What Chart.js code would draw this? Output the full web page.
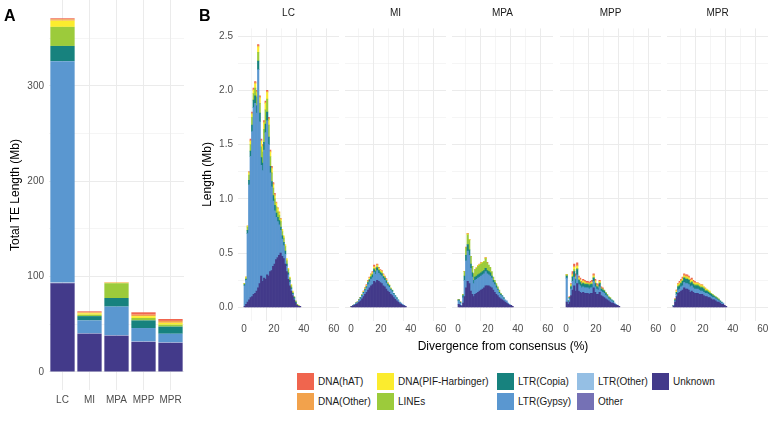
<!DOCTYPE html>
<html>
<head>
<meta charset="utf-8">
<script src="https://cdn.jsdelivr.net/npm/chart.js@4.4.1/dist/chart.umd.min.js"></script>
<style>
  body { margin: 0; background: #fff; font-family: 'Liberation Sans', Arial, sans-serif; }
  #wrap { position: relative; width: 771px; height: 422px; overflow: hidden; }
  canvas { position: absolute; top: 0; }
  .tag { position: absolute; font-weight: bold; font-size: 16px; line-height: 16px; }
  .xtitle { position: absolute; left: 237px; width: 532px; top: 339px; text-align: center; font-size: 12px; line-height: 14px; }
  .key { position: absolute; width: 17px; height: 17px; }
  .keytext { position: absolute; font-size: 10px; line-height: 17px; color: #1a1a1a; }
</style>
</head>
<body>
<div id="wrap">
  <canvas id="barA" style="left:0px" width="187" height="422"></canvas>
  <canvas id="f0" style="left:196px" width="143" height="340"></canvas>
  <canvas id="f1" style="left:345px" width="101" height="340"></canvas>
  <canvas id="f2" style="left:452px" width="101" height="340"></canvas>
  <canvas id="f3" style="left:560px" width="101" height="340"></canvas>
  <canvas id="f4" style="left:667px" width="101" height="340"></canvas>
  <div class="tag" style="left:4px;top:8px">A</div>
  <div class="tag" style="left:199px;top:8px">B</div>
  <div class="xtitle">Divergence from consensus (%)</div>
  <div id="legend"></div>
</div>
<script>
// legend order (ggplot factor order), colours
const seriesNames = ['DNA(hAT)', 'DNA(Other)', 'DNA(PIF-Harbinger)', 'LINEs', 'LTR(Copia)', 'LTR(Gypsy)', 'LTR(Other)', 'Other', 'Unknown'];
const seriesColors = ['#F0654E', '#F2A24C', '#FBEC2E', '#9CCB3B', '#17827E', '#5A97D0', '#95BFE4', '#7571B5', '#433A8A'];

// panel A: total TE length (Mb)
const species = ['LC', 'MI', 'MPA', 'MPP', 'MPR'];
const barUnknown  = [93, 40, 38, 31.5, 30.5];
const barOther    = [0.5, 0.3, 0.3, 0.3, 0.3];
const barLtrOther = [0.5, 0.3, 0.3, 0.3, 0.3];
const barGypsy    = [232, 13.5, 30, 14, 9];
const barCopia    = [16, 4.5, 9, 8, 7.5];
const barLines    = [20, 1.5, 15.5, 2.5, 2];
const barPif      = [6.5, 1.5, 0.5, 2, 2];
const barDnaOther = [1.5, 1, 0.3, 1.5, 2];
const barHat      = [1, 1, 0.3, 2.5, 2];
const barTicks = [0, 50, 100, 150, 200, 250, 300, 350];

// panel B: length (Mb) per divergence bin
const divergenceBins = [0.5,1.5,2.5,3.5,4.5,5.5,6.5,7.5,8.5,9.5,10.5,11.5,12.5,13.5,14.5,15.5,16.5,17.5,18.5,19.5,
  20.5,21.5,22.5,23.5,24.5,25.5,26.5,27.5,28.5,29.5,30.5,31.5,32.5,33.5,34.5,35.5,36.5,37.5,38.5,39.5];
const divTicks = [0, 10, 20, 30, 40, 50, 60];
const lenTicks = [0, 0.25, 0.5, 0.75, 1, 1.25, 1.5, 1.75, 2, 2.25, 2.5];

const lcUnknown  = [0.01,0.03,0.05,0.07,0.09,0.10,0.12,0.13,0.15,0.18,0.22,0.29,0.24,0.27,0.26,0.30,0.29,0.33,0.34,0.38,0.40,0.44,0.46,0.48,0.50,0.47,0.45,0.40,0.33,0.26,0.20,0.15,0.11,0.07,0.04,0.02,0.01,0.01];
const lcGypsy    = [0.19,0.22,0.63,1.06,1.30,1.52,1.72,1.75,1.64,2.01,1.49,1.02,1.02,1.18,1.35,1.42,1.21,0.91,0.77,0.60,0.49,0.39,0.33,0.28,0.21,0.16,0.12,0.09,0.05,0.04,0.03,0.02,0.01,0.01];
const lcCopia    = [0.01,0.01,0.03,0.04,0.05,0.06,0.07,0.07,0.07,0.08,0.08,0.07,0.07,0.07,0.08,0.08,0.07,0.06,0.05,0.05,0.05,0.04,0.04,0.04,0.03,0.03,0.03,0.03,0.02,0.02,0.02,0.01,0.01,0.01,0.01];
const lcLines    = [0.01,0.01,0.03,0.05,0.06,0.07,0.06,0.07,0.08,0.08,0.09,0.10,0.10,0.12,0.13,0.12,0.11,0.09,0.08,0.07,0.06,0.06,0.05,0.05,0.05,0.04,0.04,0.04,0.03,0.03,0.02,0.02,0.01,0.01,0.01,0.01,0.01];
const lcPif      = [0,0.01,0.01,0.02,0.03,0.03,0.03,0.04,0.04,0.05,0.05,0.05,0.05,0.06,0.06,0.06,0.05,0.04,0.04,0.03,0.03,0.03,0.03,0.02,0.02,0.02,0.02,0.02,0.02,0.01,0.01,0.01,0.01];
const lcDnaOther = [0,0,0,0.01,0.01,0.01,0.01,0.01,0.01,0.01,0.01,0.01,0.01,0.01,0.01,0.01,0.01,0.01,0.01,0.01,0.01,0.01,0.01,0.01,0.01];
const lcHat      = [0,0,0,0,0.01,0.01,0.01,0.01,0.01,0.01,0.01,0.01,0.01,0.01,0.01,0.01,0.01,0.01,0.01,0.01,0.01];

const miUnknown  = [0.01,0.015,0.02,0.03,0.035,0.05,0.06,0.08,0.10,0.12,0.14,0.16,0.18,0.20,0.21,0.24,0.23,0.25,0.24,0.23,0.22,0.20,0.19,0.17,0.15,0.14,0.12,0.11,0.09,0.075,0.06,0.05,0.035,0.03,0.02,0.015,0.01];
const miGypsy    = [0,0.005,0.01,0.01,0.01,0.015,0.02,0.025,0.03,0.035,0.04,0.05,0.055,0.06,0.065,0.085,0.075,0.09,0.075,0.07,0.07,0.065,0.06,0.055,0.05,0.045,0.04,0.035,0.03,0.025,0.02,0.015,0.01,0.01,0.01,0.005];
const miCopia    = [0,0,0,0,0.005,0.005,0.01,0.01,0.01,0.01,0.01,0.02,0.02,0.02,0.025,0.025,0.025,0.025,0.025,0.02,0.02,0.02,0.02,0.02,0.015,0.015,0.01,0.01,0.01,0.01,0.01,0.005,0.005];
const miLines    = [0,0,0,0,0,0,0,0,0,0.005,0.005,0.005,0.005,0.01,0.01,0.01,0.01,0.01,0.01,0.01,0.01,0.005,0.005,0.005,0.005,0.005,0.005,0.005];
const miPif      = [0,0,0,0,0,0,0,0.005,0.005,0.005,0.005,0.005,0.01,0.01,0.01,0.01,0.01,0.01,0.01,0.01,0.01,0.01,0.005,0.005,0.005,0.005,0.005];
const miDnaOther = [0,0,0,0,0,0,0,0,0.005,0.005,0.005,0.005,0.005,0.005,0.005,0.01,0.005,0.01,0.005,0.005,0.005,0.005,0.005,0.005,0.005];
const miHat      = [0,0,0,0,0,0,0,0,0,0,0.005,0.005,0.005,0.005,0.005,0.01,0.01,0.005,0.005,0.005,0.005,0.005,0.005,0.005];

const mpaUnknown  = [0.03,0.02,0.01,0.04,0.10,0.18,0.24,0.22,0.15,0.12,0.10,0.12,0.13,0.14,0.15,0.16,0.17,0.18,0.20,0.20,0.20,0.19,0.18,0.16,0.14,0.12,0.11,0.09,0.08,0.07,0.06,0.05,0.04,0.03,0.02,0.02,0.01];
const mpaGypsy    = [0.03,0.02,0.01,0.05,0.15,0.25,0.28,0.26,0.21,0.16,0.12,0.13,0.13,0.13,0.13,0.13,0.13,0.13,0.13,0.11,0.10,0.10,0.09,0.07,0.07,0.06,0.05,0.04,0.03,0.03,0.02,0.02,0.02,0.01,0.01];
const mpaCopia    = [0.01,0.01,0,0.02,0.04,0.05,0.06,0.05,0.04,0.04,0.03,0.03,0.03,0.03,0.03,0.03,0.03,0.03,0.03,0.03,0.03,0.03,0.02,0.02,0.02,0.02,0.01,0.01,0.01,0.01,0.01];
const mpaLines    = [0,0,0,0.01,0.04,0.07,0.09,0.09,0.07,0.06,0.06,0.07,0.07,0.08,0.08,0.08,0.08,0.08,0.09,0.07,0.06,0.05,0.04,0.03,0.02,0.02,0.02,0.02,0.01];
const mpaPif      = [0,0,0,0,0,0,0.005,0.005,0,0,0,0,0.005,0.005,0.005,0.005,0.005,0.005,0.005];
const mpaDnaOther = [0,0,0,0,0,0,0.005,0,0,0,0,0,0,0,0,0.005,0,0,0.005];
const mpaHat      = [0,0,0,0,0,0.005,0,0,0,0,0,0,0,0,0.005,0,0,0,0,0.005];

const mppUnknown  = [0.05,0.03,0.05,0.11,0.16,0.20,0.15,0.22,0.15,0.14,0.13,0.14,0.13,0.13,0.13,0.12,0.13,0.13,0.18,0.14,0.12,0.12,0.14,0.11,0.10,0.09,0.08,0.07,0.06,0.05,0.04,0.04,0.03,0.02,0.02,0.01];
const mppGypsy    = [0.22,0.02,0.03,0.06,0.08,0.08,0.07,0.08,0.06,0.06,0.05,0.05,0.05,0.05,0.05,0.05,0.05,0.05,0.06,0.05,0.05,0.04,0.05,0.04,0.04,0.04,0.03,0.03,0.02,0.02,0.02,0.01,0.01,0.01];
const mppCopia    = [0.02,0.01,0.01,0.02,0.04,0.05,0.04,0.05,0.04,0.03,0.03,0.03,0.03,0.03,0.03,0.03,0.03,0.03,0.03,0.03,0.02,0.02,0.03,0.02,0.02,0.02,0.02,0.01,0.01,0.01,0.01,0.01];
const mppLines    = [0.01,0,0,0.01,0.01,0.02,0.01,0.01,0.01,0.01,0.01,0.01,0.01,0.01,0.01,0.01,0.01,0.01,0.01,0.01,0.01,0.01,0.01,0.01,0.01,0.01,0.01,0.01,0.01,0.01];
const mppPif      = [0,0,0,0.01,0.01,0.02,0.01,0.02,0.01,0.01,0,0.01,0.01,0,0,0,0,0.01,0.01,0.01,0,0,0.01];
const mppDnaOther = [0,0,0,0,0.01,0.01,0.01,0.01,0.01,0.01,0.01,0.01,0.01,0.01,0.01,0.01,0.01,0.01,0.01,0.01,0.01,0.01];
const mppHat      = [0,0,0.01,0.01,0.02,0.02,0.02,0.02,0.01,0.01,0.01,0.01,0.01,0.01,0.01,0.01,0.01,0.01,0.01,0.01,0.01,0.01,0.01,0.01,0.01];

const mprUnknown  = [0.01,0.05,0.10,0.13,0.14,0.15,0.16,0.18,0.17,0.17,0.16,0.14,0.15,0.14,0.13,0.13,0.13,0.12,0.12,0.12,0.11,0.10,0.10,0.09,0.09,0.08,0.07,0.07,0.06,0.05,0.05,0.04,0.03,0.03,0.02,0.01];
const mprGypsy    = [0.01,0.01,0.02,0.03,0.03,0.04,0.04,0.05,0.05,0.05,0.05,0.05,0.05,0.04,0.04,0.04,0.04,0.04,0.03,0.03,0.03,0.03,0.03,0.03,0.02,0.02,0.02,0.02,0.02,0.02,0.01,0.01,0.01,0.01];
const mprCopia    = [0,0.01,0.02,0.03,0.03,0.03,0.04,0.04,0.04,0.04,0.04,0.03,0.03,0.03,0.03,0.03,0.03,0.03,0.03,0.03,0.03,0.02,0.02,0.02,0.02,0.02,0.02,0.01,0.01,0.01,0.01,0.01,0.01];
const mprLines    = [0,0,0,0.01,0.01,0.01,0.01,0.01,0.01,0.01,0.01,0.01,0.01,0.01,0.01,0.01,0.01,0.01,0.01,0.01,0.01,0.01,0.01,0.01,0.01,0.01,0.01,0.01,0.01,0.01,0.01];
const mprPif      = [0,0,0.01,0.01,0.01,0.01,0.01,0.01,0.01,0.01,0.01,0.01,0.01,0.01,0.01,0.01,0.01,0.01,0.01,0.01,0.01,0.01,0.01,0.01,0.01];
const mprDnaOther = [0,0.01,0.01,0.01,0.01,0.01,0.01,0.01,0.01,0.01,0.01,0.01,0.01,0.01,0.01,0.01,0.01,0.01,0.01,0.01,0,0.01];
const mprHat      = [0,0,0,0,0.01,0.01,0.01,0.01,0.01,0.01,0.01,0.01,0.01,0.01,0.01];

Chart.defaults.font.family = "'Liberation Sans', Arial, sans-serif";
Chart.defaults.animation = false;

const GRID = '#ebebeb';
const TICK = '#4d4d4d';
const colorOf = name => seriesColors[seriesNames.indexOf(name)];

// keep the plot area exactly where afterFit puts it (no extra room for edge labels)
function noEdgePadding(s) {
  s.paddingTop = 0; s.paddingBottom = 0; s.paddingLeft = 0; s.paddingRight = 0;
}

// small plugin for the facet strip labels
function strip(text) {
  return {
    id: 'strip',
    afterDraw(chart) {
      const { ctx, chartArea } = chart;
      ctx.save();
      ctx.fillStyle = '#1a1a1a';
      ctx.font = "10px 'Liberation Sans', Arial, sans-serif";
      ctx.textAlign = 'center';
      ctx.textBaseline = 'middle';
      ctx.fillText(text, (chartArea.left + chartArea.right) / 2, 13);
      ctx.restore();
    }
  };
}

// ---- panel A ----
const barLayers = [
  ['Unknown', barUnknown], ['Other', barOther], ['LTR(Other)', barLtrOther],
  ['LTR(Gypsy)', barGypsy], ['LTR(Copia)', barCopia], ['LINEs', barLines],
  ['DNA(PIF-Harbinger)', barPif], ['DNA(Other)', barDnaOther], ['DNA(hAT)', barHat]
];

new Chart(document.getElementById('barA'), {
  type: 'bar',
  data: {
    labels: species,
    datasets: barLayers.map(([name, vals]) => ({
      label: name, data: vals, backgroundColor: colorOf(name),
      borderWidth: 0, barPercentage: 0.9, categoryPercentage: 1
    }))
  },
  options: {
    responsive: false,
    layout: { padding: { top: 0, right: 3, bottom: 0, left: 0 } },
    plugins: { legend: { display: false }, tooltip: { enabled: false } },
    scales: {
      x: {
        stacked: true,
        afterFit: s => { s.height = 32; noEdgePadding(s); },
        grid: { offset: false, color: GRID, lineWidth: 1, drawTicks: false },
        border: { display: false },
        ticks: { color: TICK, font: { size: 10 }, padding: 4, autoSkip: false, maxRotation: 0, minRotation: 0 }
      },
      y: {
        stacked: true, min: -18.9, max: 390.2,
        afterBuildTicks: s => { s.ticks = barTicks.map(v => ({ value: v })); },
        afterFit: s => { s.width = 49; noEdgePadding(s); },
        grid: { color: GRID, lineWidth: c => (c.tick && c.tick.value % 100 === 0 ? 1 : 0.5), drawTicks: false },
        border: { display: false },
        ticks: { color: TICK, font: { size: 10 }, padding: 5, callback: v => (v % 100 === 0 ? String(v) : '') },
        title: { display: true, text: 'Total TE Length (Mb)', color: '#000', font: { size: 12 }, padding: { top: 8, bottom: 0 } }
      }
    }
  }
});

// ---- panel B ----
const layerNames = ['Unknown', 'LTR(Gypsy)', 'LTR(Copia)', 'LINEs', 'DNA(PIF-Harbinger)', 'DNA(Other)', 'DNA(hAT)'];
const facets = [
  ['LC',  [lcUnknown, lcGypsy, lcCopia, lcLines, lcPif, lcDnaOther, lcHat]],
  ['MI',  [miUnknown, miGypsy, miCopia, miLines, miPif, miDnaOther, miHat]],
  ['MPA', [mpaUnknown, mpaGypsy, mpaCopia, mpaLines, mpaPif, mpaDnaOther, mpaHat]],
  ['MPP', [mppUnknown, mppGypsy, mppCopia, mppLines, mppPif, mppDnaOther, mppHat]],
  ['MPR', [mprUnknown, mprGypsy, mprCopia, mprLines, mprPif, mprDnaOther, mprHat]]
];

const isHalf = v => Math.abs(v * 2 - Math.round(v * 2)) < 1e-6;

facets.forEach(([name, layers], idx) => {
  const first = idx === 0;
  new Chart(document.getElementById('f' + idx), {
    type: 'bar',
    data: {
      datasets: layers.map((vals, k) => ({
        label: layerNames[k],
        data: vals.map((v, i) => ({ x: divergenceBins[i], y: v })),
        backgroundColor: colorOf(layerNames[k]),
        borderWidth: 0, barPercentage: 1, categoryPercentage: 1
      }))
    },
    options: {
      responsive: false,
      layout: { padding: { top: 28.4, right: 0, bottom: 0, left: 0 } },
      plugins: { legend: { display: false }, tooltip: { enabled: false } },
      scales: {
        x: {
          type: 'linear', stacked: true, offset: false, min: -4, max: 63.5,
          afterBuildTicks: s => { s.ticks = divTicks.map(v => ({ value: v })); },
          afterFit: s => { s.height = 19.5; noEdgePadding(s); },
          grid: { color: GRID, lineWidth: c => (c.tick && c.tick.value % 20 === 0 ? 1 : 0.5), drawTicks: false },
          border: { display: false },
          ticks: { color: TICK, font: { size: 10 }, padding: 3, autoSkip: false, maxRotation: 0,
                   callback: v => (v % 20 === 0 ? String(v) : '') }
        },
        y: {
          stacked: true, min: -0.12, max: 2.57,
          afterBuildTicks: s => { s.ticks = lenTicks.map(v => ({ value: v })); },
          afterFit: s => { s.width = first ? 42 : 0; noEdgePadding(s); },
          grid: { color: GRID, lineWidth: c => (c.tick && isHalf(c.tick.value) ? 1 : 0.5), drawTicks: false },
          border: { display: false },
          ticks: { display: first, color: TICK, font: { size: 10 }, padding: 5,
                   callback: v => (isHalf(v) ? v.toFixed(1) : '') },
          title: { display: first, text: 'Length (Mb)', color: '#000', font: { size: 12 }, padding: { top: 4, bottom: 0 } }
        }
      }
    },
    plugins: [strip(name)]
  });
});

// ---- shared legend (two rows, filled by column) ----
const legendCols = [297, 377, 497, 577, 652];
const legendRows = [373, 393];
const legend = document.getElementById('legend');
seriesNames.forEach((name, k) => {
  const x = legendCols[Math.floor(k / 2)];
  const y = legendRows[k % 2];
  const key = document.createElement('div');
  key.className = 'key';
  key.style.left = x + 'px';
  key.style.top = y + 'px';
  key.style.background = seriesColors[k];
  const txt = document.createElement('div');
  txt.className = 'keytext';
  txt.style.left = (x + 21) + 'px';
  txt.style.top = y + 'px';
  txt.textContent = name;
  legend.appendChild(key);
  legend.appendChild(txt);
});
</script>
</body>
</html>
